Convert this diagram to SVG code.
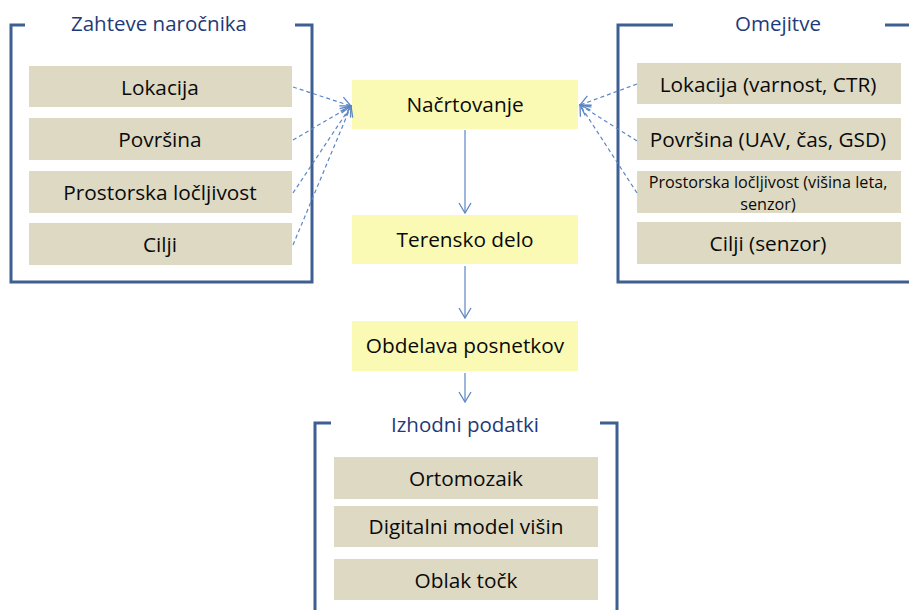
<svg xmlns="http://www.w3.org/2000/svg" width="909" height="610" viewBox="0 0 909 610">
<style>
.frame{fill:none;stroke:#3E5F92;stroke-width:3}
.title{font-family:"Open Sans","Liberation Sans",sans-serif;font-size:20.5px;fill:#1F3A78;text-anchor:middle}
.tan{fill:#DDD9C3}
.yel{fill:#FAFAB4}
.t{font-family:"Open Sans","Liberation Sans",sans-serif;font-size:20.8px;fill:#0A0A0A;text-anchor:middle}
.ts{font-family:"Open Sans","Liberation Sans",sans-serif;font-size:16.2px;fill:#0A0A0A;text-anchor:middle}
.dash{fill:none;stroke:#5B86C5;stroke-width:1.2;stroke-dasharray:4 3}
.solid{fill:none;stroke:#5B86C5;stroke-width:1.2}
</style>
<defs>
<marker id="arr" markerUnits="userSpaceOnUse" markerWidth="16" markerHeight="16" viewBox="-12 -8 14 16" refX="0" refY="0" orient="auto">
<path d="M-10,-6 L0,0 L-10,6" fill="none" stroke="#5B86C5" stroke-width="1.3"/>
</marker>
</defs>

<g id="frame-zahteve">
<path class="frame" d="M25,25 H11 V282 H312 V25 H295"/>
<text class="title" x="159" y="31">Zahteve naročnika</text>
</g>
<g id="frame-omejitve">
<path class="frame" d="M673,25 H618 V282 H912"/>
<path class="frame" d="M885,25 H912"/>
<text class="title" x="778" y="31">Omejitve</text>
</g>
<g id="frame-izhodni">
<path class="frame" d="M331,423 H315 V612"/>
<path class="frame" d="M600,423 H617 V612"/>
<text class="title" x="465" y="432">Izhodni podatki</text>
</g>

<g id="z-lokacija"><rect class="tan" x="29" y="66" width="263" height="41"/><text class="t" x="160" y="95">Lokacija</text></g>
<g id="z-povrsina"><rect class="tan" x="29" y="118" width="263" height="42"/><text class="t" x="160" y="147">Površina</text></g>
<g id="z-prostorska"><rect class="tan" x="29" y="171" width="263" height="42"/><text class="t" x="160" y="200">Prostorska ločljivost</text></g>
<g id="z-cilji"><rect class="tan" x="29" y="223" width="263" height="42"/><text class="t" x="160" y="252">Cilji</text></g>

<g id="o-lokacija"><rect class="tan" x="637" y="63" width="264" height="41"/><text class="t" x="768" y="92">Lokacija (varnost, CTR)</text></g>
<g id="o-povrsina"><rect class="tan" x="637" y="118" width="264" height="42"/><text class="t" x="768" y="147">Površina (UAV, čas, GSD)</text></g>
<g id="o-prostorska"><rect class="tan" x="637" y="171" width="264" height="42"/><text class="ts" x="768" y="188">Prostorska ločljivost (višina leta,</text><text class="ts" x="768" y="210">senzor)</text></g>
<g id="o-cilji"><rect class="tan" x="637" y="222" width="264" height="42"/><text class="t" x="768" y="251">Cilji (senzor)</text></g>

<g id="nacrtovanje"><rect class="yel" x="352" y="80" width="226" height="49"/><text class="t" x="465" y="112">Načrtovanje</text></g>
<g id="terensko"><rect class="yel" x="352" y="215" width="226" height="49"/><text class="t" x="465" y="247">Terensko delo</text></g>
<g id="obdelava"><rect class="yel" x="352" y="321" width="226" height="50"/><text class="t" x="465" y="353">Obdelava posnetkov</text></g>

<g id="i-ortomozaik"><rect class="tan" x="334" y="457" width="264" height="42"/><text class="t" x="466" y="486">Ortomozaik</text></g>
<g id="i-dmv"><rect class="tan" x="334" y="506" width="264" height="41"/><text class="t" x="466" y="534">Digitalni model višin</text></g>
<g id="i-oblak"><rect class="tan" x="334" y="559" width="264" height="41"/><text class="t" x="466" y="588">Oblak točk</text></g>

<g id="connectors">
<path class="dash" d="M293,87 L351,106" marker-end="url(#arr)"/>
<path class="dash" d="M293,140 L351,106" marker-end="url(#arr)"/>
<path class="dash" d="M293,193 L351,106" marker-end="url(#arr)"/>
<path class="dash" d="M293,245 L351,106" marker-end="url(#arr)"/>
<path class="dash" d="M637,84 L580,105" marker-end="url(#arr)"/>
<path class="dash" d="M637,141 L580,105" marker-end="url(#arr)"/>
<path class="dash" d="M637,193 L580,105" marker-end="url(#arr)"/>
<path class="solid" d="M465,130 V213" marker-end="url(#arr)"/>
<path class="solid" d="M465,266 V318" marker-end="url(#arr)"/>
<path class="solid" d="M465,373 V402" marker-end="url(#arr)"/>
</g>
</svg>
